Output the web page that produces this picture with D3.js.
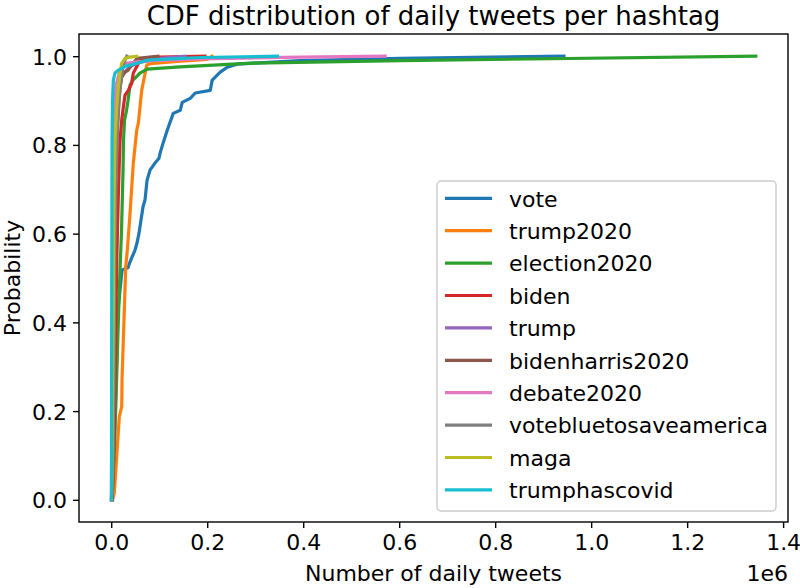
<!DOCTYPE html>
<html>
<head>
<meta charset="utf-8">
<script src="https://cdn.jsdelivr.net/npm/d3@7"></script>
<style>
  html, body { margin: 0; padding: 0; background: #fff; }
  svg { display: block; font-family: "DejaVu Sans", sans-serif; }
</style>
</head>
<body>
<svg id="chart" width="800" height="588"></svg>
<script>
// ---- data (daily tweet count, cumulative probability) ----
const seriesNames = ["vote", "trump2020", "election2020", "biden", "trump",
  "bidenharris2020", "debate2020", "votebluetosaveamerica", "maga", "trumphascovid"];
const seriesColors = ["#1f77b4", "#ff7f0e", "#2ca02c", "#d62728", "#9467bd",
  "#8c564b", "#e377c2", "#7f7f7f", "#bcbd22", "#17becf"];
const xTicks = [0, 200000, 400000, 600000, 800000, 1000000, 1200000, 1400000];
const xTickLabels = ["0.0", "0.2", "0.4", "0.6", "0.8", "1.0", "1.2", "1.4"];
const yTicks = [0, 0.2, 0.4, 0.6, 0.8, 1.0];
const yTickLabels = ["0.0", "0.2", "0.4", "0.6", "0.8", "1.0"];

const vote = [[2700,0],[5800,.113],[10000,.27],[14200,.428],[18300,.473],[22500,.518],[35000,.523],
  [39000,.536],[49600,.563],[53700,.579],[57900,.601],[62100,.631],[66200,.66],[70400,.676],
  [74600,.72],[80800,.743],[91200,.759],[99600,.77],[101700,.781],[108000,.804],[116700,.833],
  [129200,.871],[143800,.878],[147900,.896],[164600,.905],[175000,.917],[206300,.923],[210400,.946],
  [216700,.953],[227100,.964],[241700,.975],[262100,.982],[289100,.984],[393300,.99],[601700,.995],[943300,1.0]];
const trump2020 = [[2700,0],[6500,.016],[16900,.188],[21900,.21],[22500,.27],[30200,.525],[33500,.563],
  [39200,.646],[46000,.759],[53100,.833],[56500,.849],[63500,.923],[74000,.98],[80800,.983],
  [145000,.989],[200000,.993],[210000,1.0]];
const election2020 = [[1700,0],[5800,.09],[10000,.225],[14200,.383],[18300,.518],[21500,.608],[24600,.743],
  [25600,.81],[27700,.856],[31900,.878],[35000,.9],[39200,.935],[45400,.946],[60000,.962],[74600,.971],
  [143300,.976],[282900,.984],[601700,.99],[1343000,1.0]];
const biden = [[1700,0],[3700,.045],[5800,.135],[8000,.27],[11500,.54],[14800,.687],[18300,.811],
  [21900,.856],[25200,.885],[28700,.912],[35600,.923],[42700,.939],[46000,.962],[53100,.976],
  [56500,.984],[60000,.991],[101700,.998],[195400,1.0]];
const trump = [[600,0],[2700,.18],[4800,.45],[6900,.676],[10000,.833],[14200,.912],[22500,.957],
  [39200,.977],[60000,.986],[101700,.995],[153700,1.0]];
const bidenharris2020 = [[600,0],[2700,.225],[4800,.45],[7900,.676],[12100,.833],[16200,.9],[18300,.93],
  [21900,.953],[28700,.964],[35000,.968],[42700,.98],[49600,.989],[53700,.995],[97500,1.0]];
const debate2020 = [[200,0],[1200,.225],[2300,.45],[3700,.676],[5800,.856],[10000,.935],[18300,.968],
  [28700,.984],[80800,.99],[185000,.994],[393300,.998],[570800,1.0]];
const votebluetosaveamerica = [[600,0],[3700,.068],[5800,.293],[7500,.563],[10000,.72],[13100,.833],
  [16200,.9],[19400,.935],[22500,.962],[25600,.98],[28700,.991],[32300,1.0]];
const maga = [[600,0],[2700,.225],[4400,.45],[5800,.676],[7900,.811],[11500,.885],[14800,.93],
  [18300,.962],[21900,.984],[28700,.995],[39200,.998],[53100,1.0]];
const trumphascovid = [[600,0],[1000,.45],[1700,.811],[2700,.9],[4400,.946],[7900,.962],[14200,.968],
  [28700,.977],[49600,.983],[74600,.991],[185000,.997],[346400,1.0]];
const seriesData = [vote, trump2020, election2020, biden, trump, bidenharris2020,
  debate2020, votebluetosaveamerica, maga, trumphascovid];

// ---- layout ----
const svg = d3.select("#chart");
const mLeft = 79, mRight = 788, mTop = 34, mBottom = 522;
const xMax = d3.max(seriesData, s => d3.max(s, d => d[0]));
const x = d3.scaleLinear().domain([-0.05 * xMax, 1.05 * xMax]).range([mLeft, mRight]);
const y = d3.scaleLinear().domain([-0.05, 1.05]).range([mBottom, mTop]);

// lines
const line = d3.line().x(d => x(d[0])).y(d => y(d[1]));
const plot = svg.append("g");
plot.append("clipPath").attr("id", "clip").append("rect")
  .attr("x", mLeft).attr("y", mTop).attr("width", mRight - mLeft).attr("height", mBottom - mTop);
const lines = plot.append("g").attr("clip-path", "url(#clip)");
seriesData.forEach((s, i) => {
  lines.append("path").datum(s)
    .attr("d", line)
    .attr("fill", "none")
    .attr("stroke", seriesColors[i])
    .attr("stroke-width", 3.2)
    .attr("stroke-linejoin", "round")
    .attr("stroke-linecap", "square");
});

// axes
const xAxis = d3.axisBottom(x).tickValues(xTicks).tickFormat((d, i) => xTickLabels[i])
  .tickSize(6).tickPadding(6);
const yAxis = d3.axisLeft(y).tickValues(yTicks).tickFormat((d, i) => yTickLabels[i])
  .tickSize(6).tickPadding(6);
const gx = svg.append("g").attr("transform", `translate(0,${mBottom})`).call(xAxis);
const gy = svg.append("g").attr("transform", `translate(${mLeft},0)`).call(yAxis);
[gx, gy].forEach(g => {
  g.select(".domain").remove();
  g.selectAll(".tick line").attr("stroke", "#000").attr("stroke-width", 1.4);
  g.selectAll(".tick text").attr("fill", "#000").style("font-size", "22px")
    .style("font-family", "DejaVu Sans");
});
gx.selectAll(".tick text").attr("dy", "0.74em");
gy.selectAll(".tick text").attr("dy", "0.36em");

// frame
svg.append("rect").attr("x", mLeft).attr("y", mTop).attr("width", mRight - mLeft).attr("height", mBottom - mTop)
  .attr("fill", "none").attr("stroke", "#000").attr("stroke-width", 1.4);

// titles
svg.append("text").attr("x", (mLeft + mRight) / 2).attr("y", 25).attr("text-anchor", "middle")
  .style("font-size", "26px").text("CDF distribution of daily tweets per hashtag");
svg.append("text").attr("x", (mLeft + mRight) / 2).attr("y", 581).attr("text-anchor", "middle")
  .style("font-size", "22px").text("Number of daily tweets");
svg.append("text").attr("x", mRight).attr("y", 581).attr("text-anchor", "end")
  .style("font-size", "22px").text("1e6");
svg.append("text").attr("transform", `translate(20,${(mTop + mBottom) / 2}) rotate(-90)`)
  .attr("text-anchor", "middle").style("font-size", "22px").text("Probability");

// legend
const lg = svg.append("g");
lg.append("rect").attr("x", 437).attr("y", 181).attr("width", 339).attr("height", 330)
  .attr("rx", 4).attr("fill", "#fff").attr("fill-opacity", 0.8)
  .attr("stroke", "#cccccc").attr("stroke-width", 1.4);
seriesNames.forEach((n, i) => {
  const cy = 198.3 + i * 32.4;
  lg.append("line").attr("x1", 445).attr("x2", 492).attr("y1", cy).attr("y2", cy)
    .attr("stroke", seriesColors[i]).attr("stroke-width", 3.2);
  lg.append("text").attr("x", 509).attr("y", cy + 8.3).style("font-size", "22px").text(n);
});
</script>
</body>
</html>
